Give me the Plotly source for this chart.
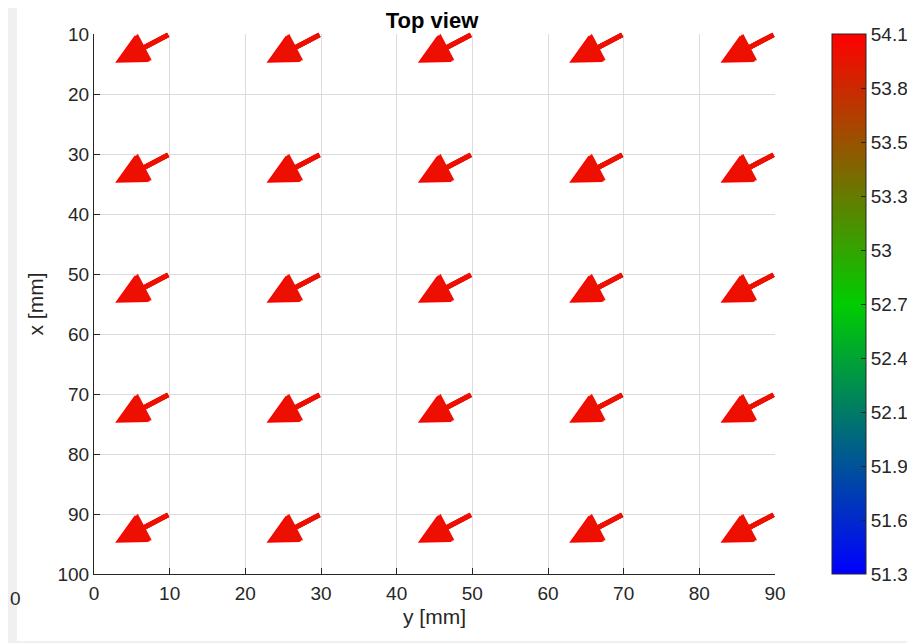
import plotly.graph_objects as go
from plotly.colors import sample_colorscale

# grid positions (mm)
grid_y = [10, 30, 50, 70, 90]   # horizontal axis "y [mm]"
grid_x = [10, 30, 50, 70, 90]   # vertical axis "x [mm]"

# vector components at several stacked levels (seen from top)
comp_y = [-7.2, -7.0, -6.8]
comp_x = [4.8, 4.65, 4.5]
magnitude = [54.1, 54.05, 54.0]

cmin, cmax = 51.3, 54.1
cb_ticktext = ["51.3", "51.6", "51.9", "52.1", "52.4", "52.7", "53", "53.3", "53.5", "53.8", "54.1"]
cb_tickvals = [cmin + i * (cmax - cmin) / 10 for i in range(11)]

cscale = [[0.0, "rgb(0,0,255)"], [0.5, "rgb(0,205,0)"], [1.0, "rgb(255,0,0)"]]

FONT = "Liberation Sans, Arial, sans-serif"
W, H = 907, 635           # page has an 8px body margin
L, T = 86, 26             # plot-area origin inside the figure
PW, PH = 681, 540

fig = go.Figure()

# invisible trace to carry the colorbar
tails_y = [gy for gx in grid_x for gy in grid_y]
tails_x = [gx for gx in grid_x for gy in grid_y]
fig.add_trace(go.Scatter(
    x=tails_y, y=tails_x, mode="markers",
    marker=dict(size=0.1, color=[magnitude[0]] * len(tails_y), colorscale=cscale,
                cmin=cmin, cmax=cmax, showscale=True,
                colorbar=dict(x=(824 - L) / PW, xanchor="left", y=0.5, yanchor="middle",
                              len=1, lenmode="fraction", ypad=0, xpad=0, thickness=34,
                              outlinecolor="#262626", outlinewidth=1,
                              tickvals=cb_tickvals, ticktext=cb_ticktext,
                              ticks="inside", ticklen=5, tickcolor="#262626",
                              tickfont=dict(size=19, color="#262626", family=FONT))),
    hoverinfo="skip", showlegend=False))

annotations = []
for lvl in range(len(comp_y)):
    col = sample_colorscale(cscale, [(magnitude[lvl] - cmin) / (cmax - cmin)])[0]
    for gx in grid_x:
        for gy in grid_y:
            annotations.append(dict(
                x=gy + comp_y[lvl], y=gx + comp_x[lvl], ax=gy, ay=gx,
                xref="x", yref="y", axref="x", ayref="y",
                showarrow=True, text="", arrowhead=2, arrowsize=1.25,
                arrowwidth=4.8, arrowcolor=col, standoff=0, startstandoff=0))

# label belonging to a neighbouring axes at the far left
annotations.append(dict(x=(0 - L) / PW, y=(PH + T - 590) / PH, xref="paper", yref="paper",
                        text="0", showarrow=False, xanchor="left", yanchor="middle",
                        font=dict(size=19, color="#262626", family=FONT)))

fig.update_layout(
    width=W, height=H,
    margin=dict(l=L, r=W - L - PW, t=T, b=H - T - PH, autoexpand=False),
    paper_bgcolor="#f0f0f0", plot_bgcolor="white",
    font=dict(family=FONT, size=19, color="#262626"),
    title=dict(text="<b>Top view</b>", x=424 / W, xanchor="center",
               y=1 - 12 / H, yanchor="middle", font=dict(size=22, color="black")),
    annotations=annotations,
    shapes=[dict(type="rect", xref="paper", yref="paper",
                 x0=(9 - L) / PW, x1=(905 - L) / PW, y0=(PH + T - 633) / PH, y1=(PH + T + 5) / PH,
                 fillcolor="white", line=dict(width=0), layer="below")],
    xaxis=dict(range=[0, 90], tickvals=[0, 10, 20, 30, 40, 50, 60, 70, 80, 90],
               showgrid=True, gridcolor="#dcdcdc", gridwidth=1, automargin=False,
               showline=True, linecolor="#262626", linewidth=1, mirror=False,
               ticks="inside", ticklen=6, tickcolor="#262626", zeroline=False,
               tickfont=dict(size=19), ticklabelstandoff=2,
               title=dict(text="y [mm]", standoff=6, font=dict(size=21))),
    yaxis=dict(range=[100, 10], tickvals=[10, 20, 30, 40, 50, 60, 70, 80, 90, 100],
               showgrid=True, gridcolor="#dcdcdc", gridwidth=1, automargin=False,
               showline=True, linecolor="#262626", linewidth=1, mirror=False,
               ticks="inside", ticklen=6, tickcolor="#262626", zeroline=False,
               tickfont=dict(size=19),
               title=dict(text="x [mm]", standoff=8, font=dict(size=21))),
)

fig.write_html("out.html")
